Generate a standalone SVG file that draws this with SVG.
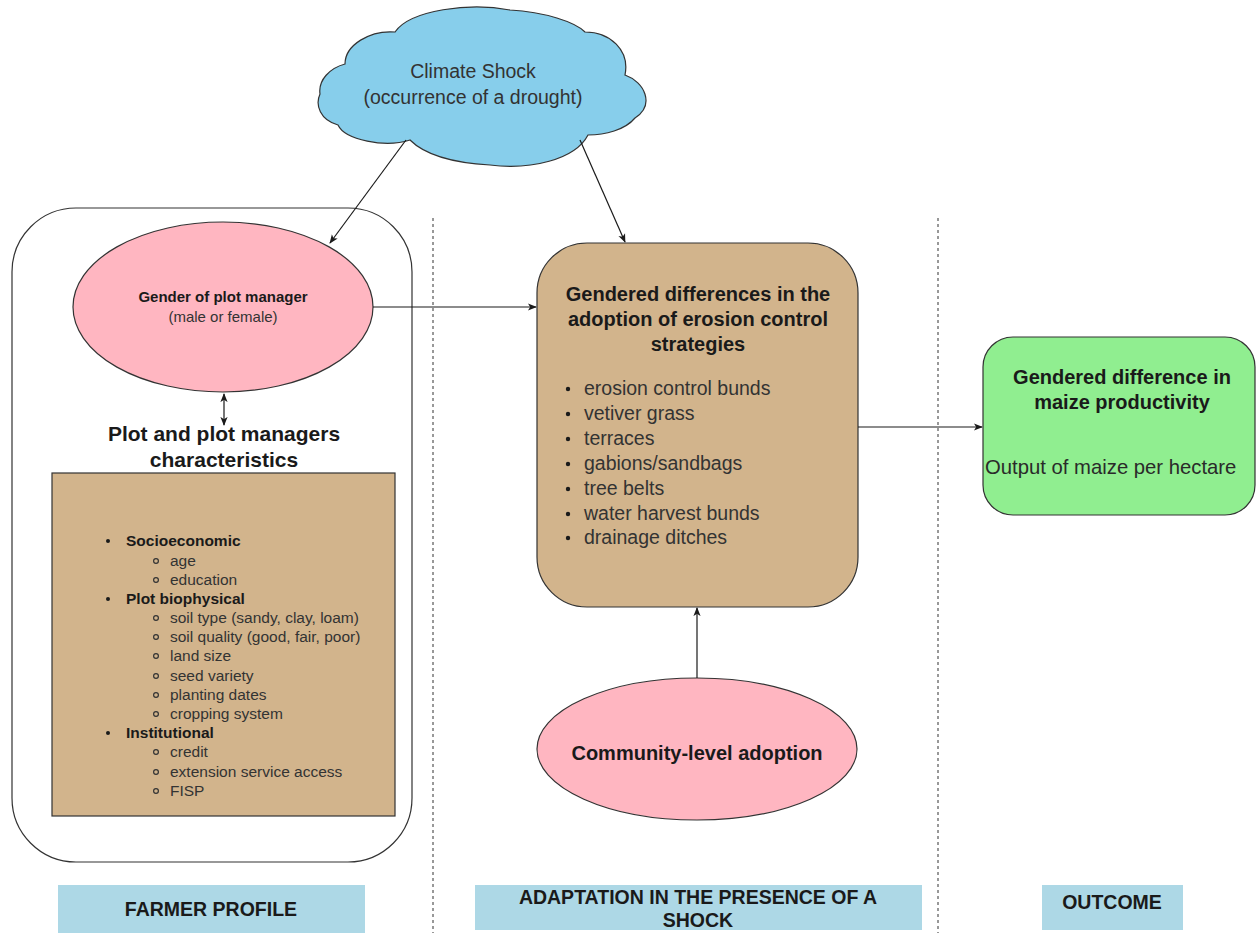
<svg xmlns="http://www.w3.org/2000/svg" width="1256" height="933" viewBox="0 0 1256 933">
<defs>
<style>
text{font-family:"Liberation Sans",Arial,sans-serif;}
.b{font-weight:bold;fill:#1a1a1a;}
.n{fill:#333;}
.c{text-anchor:middle;}
.shape{stroke:#333;stroke-width:1.2;}
.conn line{stroke:#1a1a1a;stroke-width:1.2;}
.div{stroke:#333;stroke-width:1;stroke-dasharray:3 3;}
.lbl{fill:#ADD8E6;}
</style>
<marker id="ah" viewBox="0 0 10 10" refX="9" refY="5" markerWidth="9" markerHeight="9" orient="auto" markerUnits="userSpaceOnUse">
<path d="M0,1 L10,5 L0,9 L2.5,5 Z" fill="#1a1a1a"/>
</marker>
<marker id="as" viewBox="0 0 10 10" refX="1" refY="5" markerWidth="9" markerHeight="9" orient="auto" markerUnits="userSpaceOnUse">
<path d="M10,1 L0,5 L10,9 L7.5,5 Z" fill="#1a1a1a"/>
</marker>
</defs>
<rect width="1256" height="933" fill="#fff"/>

<g id="dividers">
<line class="div" x1="433" y1="218" x2="433" y2="933"/>
<line class="div" x1="938" y1="218" x2="938" y2="933"/>
</g>

<g id="farmer-profile-frame">
<rect x="12" y="208" width="400" height="654" rx="64" ry="64" fill="#fff" stroke="#333" stroke-width="1.2"/>
</g>

<g id="climate-shock">
<path class="shape" fill="#87CEEB" d="M320,94 C318,80 330,68 345,64 C345,45 370,30 395,32 C410,10 470,2 510,10 C545,12 575,22 585,32 C610,32 630,50 625,75 C645,82 655,105 635,118 C625,130 605,135 588,135 C575,160 530,170 490,165 C455,163 425,155 410,140 C385,148 345,140 338,125 C320,120 315,105 320,94 Z"/>
<text class="n c" x="473" y="78" font-size="19.5">Climate Shock</text>
<text class="n c" x="473" y="104" font-size="19.5">(occurrence of a drought)</text>
</g>

<g id="gender">
<ellipse class="shape" cx="223" cy="307" rx="150" ry="85" fill="#FFB6C1"/>
<text class="b c" x="223" y="302" font-size="15">Gender of plot manager</text>
<text class="n c" x="223" y="322" font-size="15" fill="#444">(male or female)</text>
</g>

<g id="characteristics-title">
<text class="b c" x="224" y="441" font-size="21">Plot and plot managers</text>
<text class="b c" x="224" y="467" font-size="21">characteristics</text>
</g>

<g id="characteristics">
<rect class="shape" x="52" y="473" width="343" height="343" fill="#D2B48C"/>
<g fill="#1a1a1a">
<circle cx="108" cy="541" r="2"/>
<circle cx="108" cy="599" r="2"/>
<circle cx="108" cy="733" r="2"/>
</g>
<g fill="none" stroke="#333" stroke-width="1.2">
<circle cx="156" cy="561" r="2.4"/>
<circle cx="156" cy="580" r="2.4"/>
<circle cx="156" cy="618" r="2.4"/>
<circle cx="156" cy="637" r="2.4"/>
<circle cx="156" cy="656" r="2.4"/>
<circle cx="156" cy="676" r="2.4"/>
<circle cx="156" cy="695" r="2.4"/>
<circle cx="156" cy="714" r="2.4"/>
<circle cx="156" cy="752" r="2.4"/>
<circle cx="156" cy="772" r="2.4"/>
<circle cx="156" cy="791" r="2.4"/>
</g>
<g font-size="15.5">
<text class="b" x="126" y="546">Socioeconomic</text>
<text class="n" x="170" y="566">age</text>
<text class="n" x="170" y="585">education</text>
<text class="b" x="126" y="604">Plot biophysical</text>
<text class="n" x="170" y="623">soil type (sandy, clay, loam)</text>
<text class="n" x="170" y="642">soil quality (good, fair, poor)</text>
<text class="n" x="170" y="661">land size</text>
<text class="n" x="170" y="681">seed variety</text>
<text class="n" x="170" y="700">planting dates</text>
<text class="n" x="170" y="719">cropping system</text>
<text class="b" x="126" y="738">Institutional</text>
<text class="n" x="170" y="757">credit</text>
<text class="n" x="170" y="777">extension service access</text>
<text class="n" x="170" y="796">FISP</text>
</g>
</g>

<g id="adoption">
<rect class="shape" x="537" y="243" width="321" height="364" rx="50" ry="50" fill="#D2B48C"/>
<text class="b c" x="698" y="301" font-size="20">Gendered differences in the</text>
<text class="b c" x="698" y="326" font-size="20">adoption of erosion control</text>
<text class="b c" x="698" y="351" font-size="20">strategies</text>
<g fill="#1a1a1a">
<circle cx="568" cy="389" r="2.2"/>
<circle cx="568" cy="414" r="2.2"/>
<circle cx="568" cy="439" r="2.2"/>
<circle cx="568" cy="464" r="2.2"/>
<circle cx="568" cy="489" r="2.2"/>
<circle cx="568" cy="514" r="2.2"/>
<circle cx="568" cy="538" r="2.2"/>
</g>
<g font-size="19.5">
<text class="n" x="584" y="395">erosion control bunds</text>
<text class="n" x="584" y="420">vetiver grass</text>
<text class="n" x="584" y="445">terraces</text>
<text class="n" x="584" y="470">gabions/sandbags</text>
<text class="n" x="584" y="495">tree belts</text>
<text class="n" x="584" y="520">water harvest bunds</text>
<text class="n" x="584" y="544">drainage ditches</text>
</g>
</g>

<g id="outcome">
<rect class="shape" x="983" y="337" width="272" height="178" rx="30" ry="30" fill="#90EE90"/>
<text class="b c" x="1122" y="384" font-size="20">Gendered difference in</text>
<text class="b c" x="1122" y="409" font-size="20">maize productivity</text>
<text x="985" y="474" font-size="20.3" fill="#2a2a2a">Output of maize per hectare</text>
</g>

<g id="community">
<ellipse class="shape" cx="697" cy="749" rx="160" ry="71" fill="#FFB6C1"/>
<text class="b c" x="697" y="760" font-size="20">Community-level adoption</text>
</g>

<g id="label-farmer">
<rect class="lbl" x="58" y="885" width="307" height="48"/>
<text class="b c" x="211" y="916" font-size="19.5">FARMER PROFILE</text>
</g>
<g id="label-adaptation">
<rect class="lbl" x="475" y="885" width="447" height="45"/>
<text class="b c" x="698" y="904" font-size="19.5">ADAPTATION IN THE PRESENCE OF A</text>
<text class="b c" x="698" y="927" font-size="19.5">SHOCK</text>
</g>
<g id="label-outcome">
<rect class="lbl" x="1042" y="885" width="141" height="45"/>
<text class="b c" x="1112" y="909" font-size="19.5">OUTCOME</text>
</g>

<g id="connectors" class="conn">
<line x1="406" y1="140" x2="330" y2="243" marker-end="url(#ah)"/>
<line x1="580" y1="140" x2="625" y2="242" marker-end="url(#ah)"/>
<line x1="373" y1="307" x2="536" y2="307" marker-end="url(#ah)"/>
<line x1="858" y1="427" x2="982" y2="427" marker-end="url(#ah)"/>
<line x1="697" y1="678" x2="697" y2="608" marker-end="url(#ah)"/>
<line x1="224" y1="394" x2="224" y2="425" marker-start="url(#as)" marker-end="url(#ah)"/>
</g>
</svg>
